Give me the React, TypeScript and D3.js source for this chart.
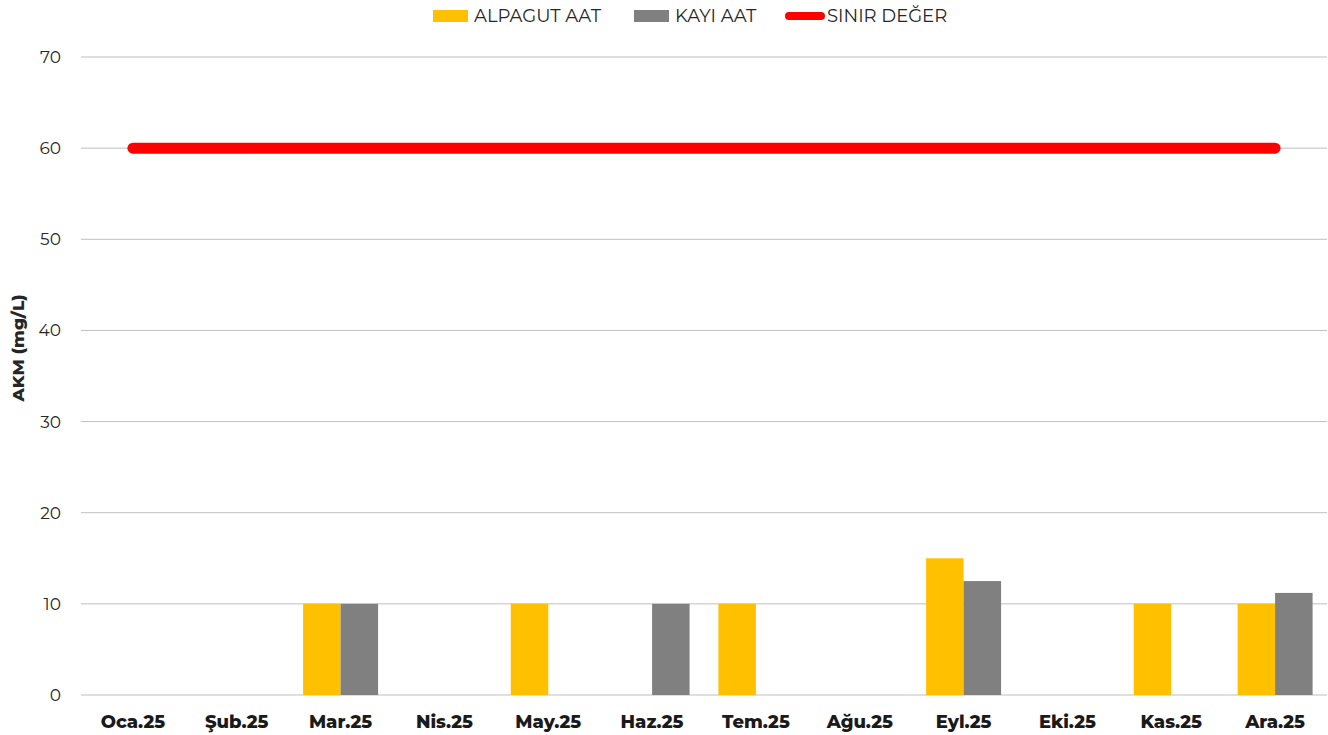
import React, { useEffect, useRef } from 'react';
import * as d3 from 'd3';

const months = ['Oca.25', 'Şub.25', 'Mar.25', 'Nis.25', 'May.25', 'Haz.25', 'Tem.25', 'Ağu.25', 'Eyl.25', 'Eki.25', 'Kas.25', 'Ara.25'];
const alpagut: (number | null)[] = [null, null, 10, null, 10, null, 10, null, 15, null, 10, 10];
const kayi: (number | null)[] = [null, null, 10, null, null, 10, null, null, 12.5, null, null, 11.2];
const limit = [60, 60, 60, 60, 60, 60, 60, 60, 60, 60, 60, 60];
const yTicks = [0, 10, 20, 30, 40, 50, 60, 70];

const W = 1328;
const H = 735;
const FONT = "Montserrat, Lato, 'Open Sans', sans-serif";

const App: React.FC = () => {
  const svgRef = useRef<SVGSVGElement>(null);

  useEffect(() => {
    if (!svgRef.current) return;
    const svg = d3.select(svgRef.current);
    svg.selectAll('*').remove();

    const left = 81, right = 1327, top = 57, bottom = 695;

    const x = d3.scaleBand<string>().domain(months).range([left, right]);
    const y = d3.scaleLinear().domain([0, 70]).range([bottom, top]);
    const barW = 37.5;

    // gridlines
    svg.append('g').selectAll('line').data(yTicks).enter().append('line')
      .attr('x1', left).attr('x2', right)
      .attr('y1', d => y(d)).attr('y2', d => y(d))
      .attr('stroke', '#bfbfbf').attr('stroke-width', 1);

    // y labels
    svg.append('g').selectAll('text').data(yTicks).enter().append('text')
      .attr('x', 61).attr('y', d => y(d))
      .attr('text-anchor', 'end').attr('dominant-baseline', 'central')
      .attr('font-family', FONT).attr('font-size', 17).attr('fill', '#262626')
      .text(d => d);

    // y title
    svg.append('text')
      .attr('transform', `translate(24, 348) rotate(-90)`)
      .attr('text-anchor', 'middle')
      .attr('font-family', FONT).attr('font-size', 17).attr('font-weight', 800).attr('fill', '#262626')
      .text('AKM (mg/L)');

    // bars
    const center = (m: string) => (x(m) as number) + x.bandwidth() / 2;
    svg.append('g').selectAll('rect').data(months.map((m, i) => ({ m, v: alpagut[i] })).filter(d => d.v != null))
      .enter().append('rect')
      .attr('x', d => center(d.m) - barW).attr('width', barW)
      .attr('y', d => y(d.v as number)).attr('height', d => bottom - y(d.v as number))
      .attr('fill', '#ffc000');
    svg.append('g').selectAll('rect').data(months.map((m, i) => ({ m, v: kayi[i] })).filter(d => d.v != null))
      .enter().append('rect')
      .attr('x', d => center(d.m)).attr('width', barW)
      .attr('y', d => y(d.v as number)).attr('height', d => bottom - y(d.v as number))
      .attr('fill', '#808080');

    // limit line
    const line = d3.line<number>().x((_d, i) => center(months[i])).y(d => y(d));
    svg.append('path').datum(limit)
      .attr('d', line).attr('fill', 'none')
      .attr('stroke', '#ff0000').attr('stroke-width', 11).attr('stroke-linecap', 'round');

    // x labels
    svg.append('g').selectAll('text').data(months).enter().append('text')
      .attr('x', d => center(d)).attr('y', 722)
      .attr('text-anchor', 'middle').attr('dominant-baseline', 'central')
      .attr('font-family', FONT).attr('font-size', 18).attr('font-weight', 800).attr('fill', '#1a1a1a')
      .text(d => d);

    // legend
    const lg = svg.append('g').attr('font-family', FONT).attr('font-size', 18).attr('fill', '#262626');
    lg.append('rect').attr('x', 433).attr('y', 10).attr('width', 35).attr('height', 12).attr('fill', '#ffc000');
    lg.append('text').attr('x', 474).attr('y', 16).attr('dominant-baseline', 'central').text('ALPAGUT AAT');
    lg.append('rect').attr('x', 634).attr('y', 10).attr('width', 35).attr('height', 12).attr('fill', '#808080');
    lg.append('text').attr('x', 675).attr('y', 16).attr('dominant-baseline', 'central').text('KAYI AAT');
    lg.append('line').attr('x1', 789).attr('x2', 821).attr('y1', 16).attr('y2', 16)
      .attr('stroke', '#ff0000').attr('stroke-width', 8).attr('stroke-linecap', 'round');
    lg.append('text').attr('x', 827).attr('y', 16).attr('dominant-baseline', 'central').text('SINIR DEĞER');
  }, []);

  return <svg ref={svgRef} width={W} height={H} style={{ display: 'block', position: 'absolute', left: 0, top: 0 }} />;
};

export default App;
